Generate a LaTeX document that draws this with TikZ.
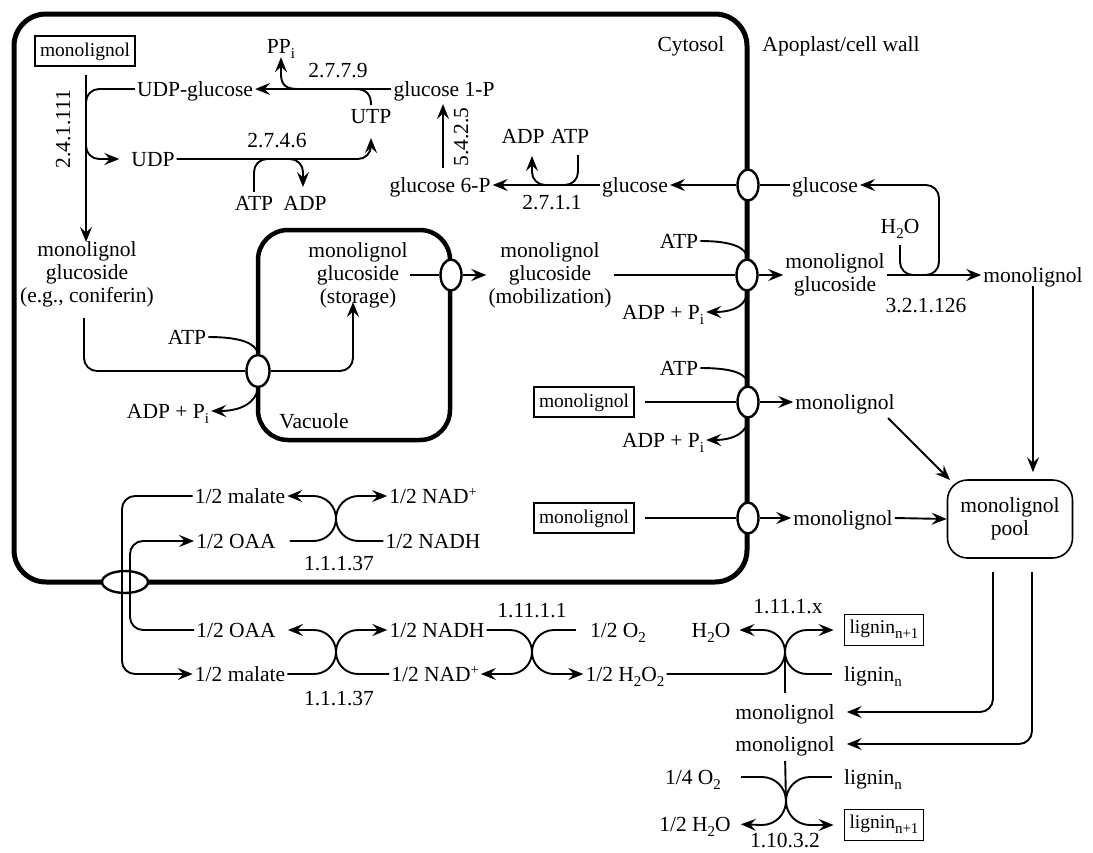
\documentclass[tikz,border=0pt]{standalone}
\usepackage{fontspec}
\setmainfont{Liberation Serif}
\usetikzlibrary{arrows.meta,shapes.geometric}
\newcommand\lsub[1]{\raisebox{-5pt}{\fontsize{15}{15}\selectfont #1}}
\newcommand\lsup[1]{\raisebox{7pt}{\fontsize{14}{14}\selectfont #1}}
\begin{document}
\begin{tikzpicture}[x=1pt,y=-1pt,
 lb/.style={font=\fontsize{21.5}{23.5}\selectfont, inner sep=2pt, text height=16pt, text depth=2pt},
 tm/.style={font=\fontsize{21.5}{23}\selectfont, inner sep=2pt, align=center},
 bx/.style={draw, line width=1.8pt, font=\fontsize{19.5}{21}\selectfont, inner xsep=5pt, inner ysep=6pt, text height=14pt, text depth=4pt},
 lbx/.style={bx, text depth=7pt, inner ysep=5pt},
 ln/.style={line width=1.9pt},
 arr/.style={line width=1.9pt, -{Stealth[length=15pt,width=12pt,inset=5.5pt]}},
 tp/.style={ellipse, draw, line width=2.4pt, fill=white, minimum width=21pt, minimum height=31pt, inner sep=0pt},
 rc/.style={rounded corners=13pt}]
\useasboundingbox (0,0) rectangle (1093,852);
% membranes
\draw[line width=5pt, rounded corners=32pt] (14,14) rectangle (747,582);
\draw[line width=4.5pt, rounded corners=30pt] (258,230) rectangle (450,440);
% transporters
\node[tp] (tg) at (748,185) {};
\node[tp] (tm1) at (747,275) {};
\node[tp] (tm2) at (748,402) {};
\node[tp] (tm3) at (748,518) {};
\node[tp] (tv2) at (451,275) {};
\node[tp, minimum width=23pt, minimum height=32pt] (tv1) at (258,371) {};
\node[tp, minimum width=46pt, minimum height=22pt] (tb) at (125,582) {};
% labels top left
\node[bx] (box0) at (85,51) {monolignol};
\node[lb] (ppi) at (281,46) {PP\lsub{i}};
\node[lb] (e2779) at (338,70) {2.7.7.9};
\node[lb] (udpg) at (195,89) {UDP-glucose};
\node[lb] (g1p) at (444,89) {glucose 1-P};
\node[lb] (utp) at (371,116) {UTP};
\node[lb] (e2746) at (277,140) {2.7.4.6};
\node[lb] (udp) at (153,159) {UDP};
\node[lb] (atpa) at (254,203) {ATP};
\node[lb] (adpa) at (305,203) {ADP};
\node[lb, rotate=90] (e2411) at (63,129) {2.4.1.111};
\node[lb, rotate=90] (e5425) at (461,137) {5.4.2.5};
\node[lb] (adpb) at (523,136) {ADP};
\node[lb] (atpb) at (570,136) {ATP};
\node[lb] (g6p) at (440,185) {glucose 6-P};
\node[lb] (e2711) at (552,202) {2.7.1.1};
\node[lb] (glci) at (635,185) {glucose};
\node[lb] (glco) at (825,185) {glucose};
\node[lb] (cyt) at (691,44) {Cytosol};
\node[lb] (apo) at (841,44) {Apoplast/cell wall};
\node[lb] (h2oa) at (900,226) {H\lsub{2}O};
\node[tm] (mlgo) at (835,275) {monolignol\\glucoside};
\node[lb] (mlr) at (1033,275) {monolignol};
\node[lb] (e3212) at (926,305) {3.2.1.126};
% vacuole area
\node[tm] (mlgc) at (87,274) {monolignol\\glucoside\\(e.g., coniferin)};
\node[tm] (mlgs) at (358,275) {monolignol\\glucoside\\(storage)};
\node[tm] (mlgm) at (550,275) {monolignol\\glucoside\\(mobilization)};
\node[lb] (atpv) at (187,337) {ATP};
\node[lb] (adpv) at (168,411) {ADP + P\lsub{i}};
\node[lb] (vac) at (314,421) {Vacuole};
\node[lb] (atpc) at (679,241) {ATP};
\node[lb] (adpc) at (663,312) {ADP + P\lsub{i}};
\node[bx] (box1) at (584,402) {monolignol};
\node[lb] (atpd) at (679,368) {ATP};
\node[lb] (adpd) at (663,440) {ADP + P\lsub{i}};
\node[lb] (ml3) at (845,402) {monolignol};
\node[bx] (box2) at (584,518) {monolignol};
\node[lb] (ml4) at (843,518) {monolignol};
\node[tm, draw, line width=1.6pt, rounded corners=20pt, minimum width=125pt, minimum height=78pt] (pool) at (1010,519) {monolignol\\pool};
% shuttle
\node[lb] (mal1) at (240,496) {1/2 malate};
\node[lb] (oaa1) at (236,541) {1/2 OAA};
\node[lb] (nad1) at (433,496) {1/2 NAD\lsup{+}};
\node[lb] (nadh1) at (433,541) {1/2 NADH};
\node[lb] (e111a) at (339,563) {1.1.1.37};
\node[lb] (oaa2) at (236,630) {1/2 OAA};
\node[lb] (mal2) at (240,674) {1/2 malate};
\node[lb] (e111b) at (339,698) {1.1.1.37};
\node[lb] (nadh2) at (437,630) {1/2 NADH};
\node[lb] (nad2) at (435,674) {1/2 NAD\lsup{+}};
\node[lb] (e1111) at (532,610) {1.11.1.1};
\node[lb] (o2a) at (618,630) {1/2 O\lsub{2}};
\node[lb] (h2o2) at (625,674) {1/2 H\lsub{2}O\lsub{2}};
\node[lb] (e111x) at (788,606) {1.11.1.x};
\node[lb] (h2ob) at (711,630) {H\lsub{2}O};
\node[lbx] (lig1) at (884,630) {lignin\lsub{n+1}};
\node[lb] (ligna) at (873,674) {lignin\lsub{n}};
\node[lb] (ml5) at (785,712) {monolignol};
\node[lb] (ml6) at (785,744) {monolignol};
\node[lb] (o2b) at (693,777) {1/4 O\lsub{2}};
\node[lb] (lignb) at (873,777) {lignin\lsub{n}};
\node[lb] (h2oc) at (695,824) {1/2 H\lsub{2}O};
\node[lbx] (lig2) at (884,825) {lignin\lsub{n+1}};
\node[lb] (e1103) at (785,840) {1.10.3.2};
% ---- connectors: top left
\draw[arr] (g1p.west) -- (udpg.east);
\coordinate (ppj) at (298,89);
\draw[arr] (ppj) .. controls (286,89) and (281,85) .. (281,74) -- (ppi.south);
\draw[ln] (utp.north) .. controls (371,95) and (367,89) .. (355,89);
\draw[arr, rc] (udp.east) -- (371,159) -- (371,138);
\draw[ln, rc] (atpa.north) -- (254,159) -- (272,159);
\draw[arr, rc] (284,159) -- (303,159) -- (303,187);
\draw[arr] (86,75) -- (86,242);
\draw[ln, rc] (udpg.west) -- (86,89) -- (86,112);
\draw[arr, rc, shorten >=10pt] (86,136) -- (86,159) -- (udp.west);
% glucose
\draw[arr] (443,168) -- (443,104);
\draw[arr] (glci.west) -- (g6p.east);
\draw[ln, rc] (578,155) -- (578,185) -- (560,185);
\draw[arr, rc] (548,185) -- (532,185) -- (532,156);
\draw[arr] (tg.west) -- (glci.east);
\draw[ln] (glco.west) -- (tg.east);
% apoplast hydrolysis
\draw[arr] (mlgo.east) -- (mlr.west);
\draw[ln, rc, shorten <=8pt] (h2oa.south) -- (900,275) -- (916,275);
\draw[arr, rc] (924,275) -- (939,275) -- (939,185) -- (glco.east);
\draw[arr, shorten >=7pt] (mlr.south) -- (mlr.south |- pool.north);
% vacuole
\draw[ln, rc] (84,318) -- (84,371) -- (tv1.west);
\draw[arr, rc] (tv1.east) -- (353,371) -- (353,302);
\draw[ln] (atpv.east) .. controls (240,337) and (256,343) .. (tv1.north);
\draw[arr] (tv1.south) .. controls (256,402) and (242,411) .. (adpv.east);
\draw[ln] (mlgs.east) -- (tv2.west);
\draw[arr] (tv2.east) -- (mlgm.west);
% mobilization
\draw[ln] (mlgm.east) -- (tm1.west);
\draw[arr] (tm1.east) -- (mlgo.west);
\draw[ln] (atpc.east) .. controls (733,241) and (747,248) .. (tm1.north);
\draw[arr] (tm1.south) .. controls (747,303) and (737,312) .. (adpc.east);
% monolignol transport
\draw[ln, shorten <=10pt] (box1.east) -- (tm2.west);
\draw[arr] (tm2.east) -- (ml3.west);
\draw[ln] (atpd.east) .. controls (734,368) and (748,374) .. (tm2.north);
\draw[arr] (tm2.south) .. controls (748,430) and (737,440) .. (adpd.east);
\draw[ln, shorten <=10pt] (box2.east) -- (tm3.west);
\draw[arr] (tm3.east) -- (ml4.west);
\draw[arr] (ml4.east) -- (pool.west);
\draw[arr] (888,418) -- (950,480);
% pool to lignification
\draw[arr, rc, shorten >=10pt] (993,572) -- (993,712) -- (ml5.east);
\draw[arr, rc, shorten >=10pt] (1032,572) -- (1032,744) -- (ml6.east);
% shuttle
\draw[arr, rc] (mal1.west) -- (122,496) -- (122,674) -- (mal2.west);
\draw[arr, rc] (oaa2.west) -- (130,630) -- (130,541) -- (oaa1.west);
\draw[arr, shorten <=12pt] (oaa1.east) -- (313.5,541) arc[start angle=90, end angle=-90, radius=22.5] -- (mal1.east);
\draw[arr] (nadh1.west) -- (358.5,541) arc[start angle=90, end angle=270, radius=22.5] -- (nad1.west);
\draw[arr, shorten >=10pt] (mal2.east) -- (314,674) arc[start angle=90, end angle=-90, radius=22] -- (oaa2.east);
\draw[arr] (nad2.west) -- (358,674) arc[start angle=90, end angle=270, radius=22] -- (nadh2.west);
\draw[arr] (nadh2.east) -- (510,630) arc[start angle=-90, end angle=90, radius=22] -- (nad2.east);
\draw[arr, shorten <=12pt] (o2a.west) -- (554,630) arc[start angle=-90, end angle=-270, radius=22] -- (h2o2.west);
\draw[arr, shorten >=7pt] (h2o2.east) -- (763,674) arc[start angle=90, end angle=-90, radius=22] -- (h2ob.east);
\draw[arr, shorten <=10pt, shorten >=10pt] (ligna.west) -- (807,674) arc[start angle=90, end angle=270, radius=22] -- (lig1.west);
\draw[ln, shorten <=8pt] (ml5.north) -- (785,652);
\draw[arr, shorten <=18pt, shorten >=8pt] (o2b.east) -- (762,777) arc[start angle=-90, end angle=90, radius=24] -- (h2oc.east);
\draw[arr, shorten <=10pt, shorten >=10pt] (lignb.west) -- (810,777) arc[start angle=-90, end angle=-270, radius=24] -- (lig2.west);
\draw[ln, shorten <=6pt] (ml6.south) -- (786,801);
\end{tikzpicture}
\end{document}
